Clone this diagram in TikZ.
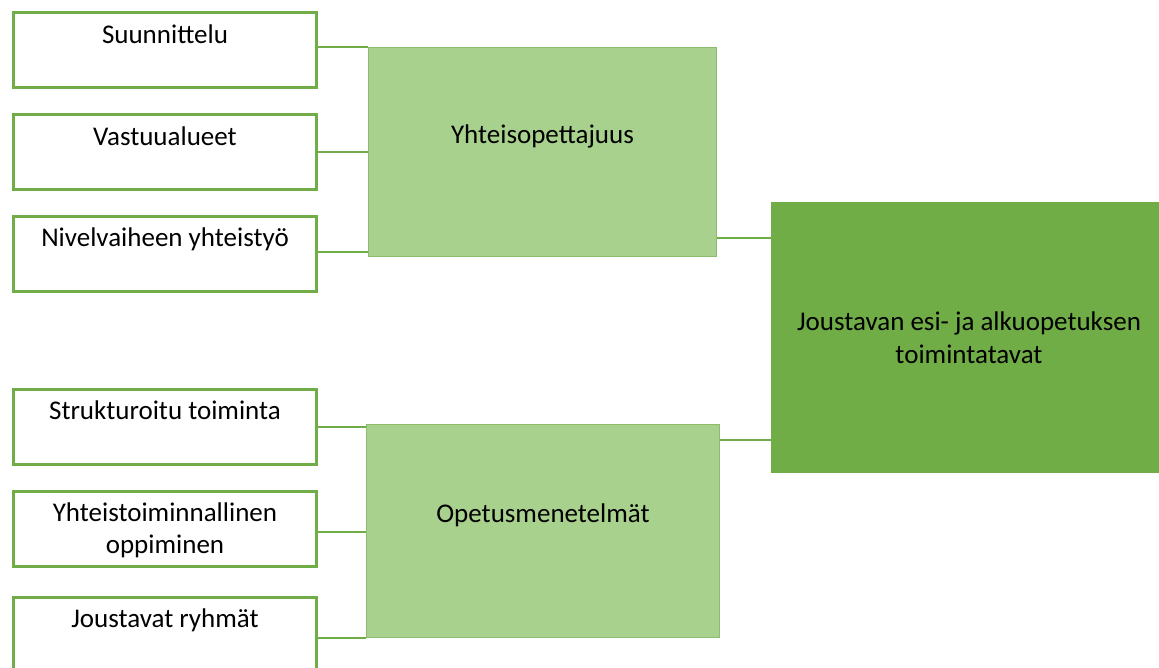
\documentclass[tikz,border=0pt]{standalone}
\usepackage{fontspec}
\setmainfont{Carlito}
\usepackage{xcolor}
\definecolor{grn}{HTML}{70AD47}
\definecolor{ltgrn}{HTML}{A9D18E}

\begin{document}
\begin{tikzpicture}[x=1pt,y=-1pt]
\tikzstyle{every node}+=[inner sep=0pt, font=\fontsize{27}{32.5}\selectfont]
\tikzstyle{leaf}=[draw=grn, fill=white, line width=3pt, minimum width=303pt, minimum height=75pt,
  label={[anchor=north, yshift=-13pt, align=center]north:#1}]
\tikzstyle{group}=[draw=grn!80!white, fill=ltgrn, line width=1pt, label={[yshift=16pt]center:#1}]
\tikzstyle{link}=[draw=grn, line width=2pt]
\useasboundingbox (0,0) rectangle (1159,668);
\clip (0,0) rectangle (1159,668);
\node [leaf=Suunnittelu] (suun) at (165,50.5) {};
\node [leaf=Vastuualueet] (vast) at (165,152.5) {};
\node [leaf=Nivelvaiheen yhteistyö] (nive) at (165,254) {};
\node [leaf=Strukturoitu toiminta] (stru) at (165,426.5) {};
\node [leaf={Yhteistoiminnallinen\\oppiminen}] (yhto) at (165,528.5) {};
\node [leaf=Joustavat ryhmät] (rymt) at (165,634.5) {};
\node [group=Yhteisopettajuus, minimum width=348pt, minimum height=209pt] (yhte) at (542.5,152) {};
\node [group=Opetusmenetelmät, minimum width=353pt, minimum height=213pt] (opet) at (543,531) {};
\node [fill=grn, minimum width=396pt, minimum height=271pt, align=center] (jous) at (969,337.5)
  {Joustavan esi- ja alkuopetuksen\\toimintatavat};
\draw [link] ([yshift=3pt]suun.east) -- ([yshift=3pt]suun.east -| yhte.west);
\draw [link] (vast.east) -- (vast.east -| yhte.west);
\draw [link] ([yshift=2pt]nive.east) -- ([yshift=2pt]nive.east -| yhte.west);
\draw [link] ([xshift=-3pt]stru.east) -- (stru.east -| opet.west);
\draw [link] ([yshift=-3pt]yhto.east) -- ([yshift=-3pt]yhto.east -| opet.west);
\draw [link] ([yshift=-3pt]rymt.east) -- ([yshift=-3pt]rymt.east -| opet.west);
\draw [link] ([yshift=-86pt]yhte.east) -- ([yshift=-86pt]yhte.east -| jous.west);
\draw [link] ([yshift=91pt]opet.east) -- ([yshift=91pt]opet.east -| jous.west);
\end{tikzpicture}
\end{document}
